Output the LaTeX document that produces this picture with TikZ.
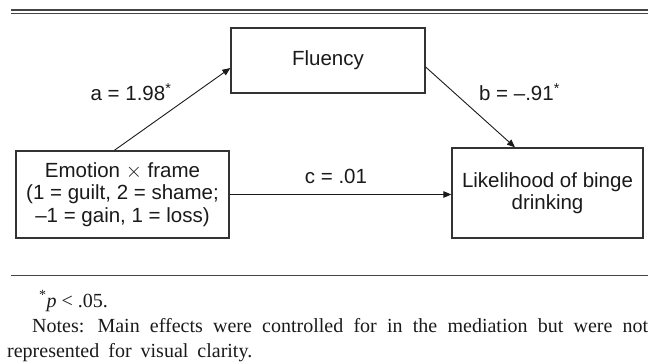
\documentclass[tikz,border=0pt]{standalone}
\usepackage{fontspec}
\setmainfont{Liberation Serif}
\setsansfont{Liberation Sans}
\usetikzlibrary{arrows.meta,calc}
\definecolor{ink}{HTML}{1A1A1A}
\definecolor{boxline}{HTML}{333333}
\definecolor{rulecol}{HTML}{444444}
\newcommand{\widespaces}{\spaceskip=9pt plus 6pt minus 2pt\relax}
\begin{document}
\begin{tikzpicture}[x=1pt,y=-1pt,
  varbox/.style={draw=boxline,line width=1.3pt,inner sep=0pt,align=center,text=ink,
     font=\sffamily\fontsize{20.5}{22.5}\selectfont},
  lbl/.style={inner sep=0pt,text=ink,font=\sffamily\fontsize{20.5}{22}\selectfont},
  path/.style={draw=ink,line width=0.9pt,-{Triangle[length=8pt,width=6.5pt]}},
  note/.style={inner sep=0pt,text=ink,font=\rmfamily\fontsize{20}{25}\selectfont}]
\useasboundingbox (0,0) rectangle (648,364);
% rules
\draw[rulecol,line width=2pt] (11,10) -- (648,10);
\draw[rulecol,line width=1pt] (11,13.4) -- (648,13.4);
\draw[rulecol,line width=1pt] (11,275) -- (648,275);
% boxes
\node[varbox,minimum width=194pt,minimum height=65pt] (flu) at (328,60.5) {Fluency};
\node[varbox,minimum width=213pt,minimum height=87pt] (emo) at (122.5,194.5)
  {Emotion $\times$ frame\\(1 = guilt, 2 = shame;\\–1 = gain, 1 = loss)};
\node[varbox,minimum width=191pt,minimum height=90pt] (lik) at (547.5,193)
  {Likelihood of binge\\drinking};
% paths
\draw[path] ($(emo.north west)+(99,0)$) -- ($(flu.west)+(0,7.5)$);
\draw[path] ($(flu.east)+(0,6.5)$) -- ($(lik.north)+(-32.5,0)$);
\draw[path] (emo.east) -- (emo.east -| lik.west);
% labels
\node[lbl] (la) at (131,92) {a = 1.98\textsuperscript{*}};
\node[lbl] (lb) at (519.5,92) {b = –.91\textsuperscript{*}};
\node[lbl] (lc) at (336,176) {c = .01};
% notes
\node[note,anchor=base west] (sig) at (39,307) {\textsuperscript{*}\textit{p} < .05.};
\node[note,anchor=north west,text width=641pt,align=justify] (notes) at (7,318.5)
  {\widespaces\hspace*{25pt}Notes: Main effects were controlled for in the mediation but were not\linebreak
   represented for visual clarity.};
\end{tikzpicture}
\end{document}
